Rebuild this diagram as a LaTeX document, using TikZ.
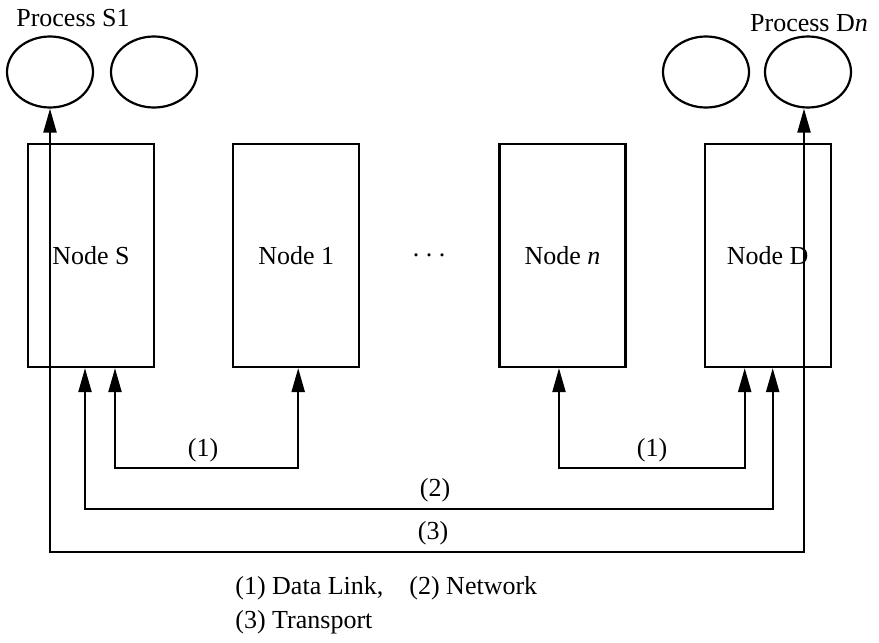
\documentclass[tikz,border=0pt]{standalone}
\usepackage{fontspec}
\setmainfont{Liberation Serif}
\usetikzlibrary{arrows.meta,shapes.geometric,positioning}

\tikzset{
  box/.style={draw, line width=1.1pt, minimum width=63pt, minimum height=111.5pt, inner sep=0pt},
  proc/.style={draw, ellipse, line width=1.1pt, minimum width=43pt, minimum height=35.5pt, inner sep=0pt},
  link/.style={line width=1.1pt, {Triangle[length=12pt,width=6.5pt]}-{Triangle[length=12pt,width=6.5pt]}},
  lbl/.style={inner sep=0pt},
}

\begin{document}
\begin{tikzpicture}[x=0.5pt, y=-0.5pt, font=\fontsize{13}{16}\selectfont]
  \useasboundingbox (0,0) rectangle (879,643);

  % 1. The nodes on the way from S to D
  \node[box] (S) at (91,255.5) {Node S};
  \node[box, right=38.5pt of S] (N1) {Node 1};
  \node[anchor=base] (dots) at (429,256) {.\ .\ .};
  \node[box] (Nn) at (562.5,255.5) {Node \textit{n}};
  \node[box, right=38.5pt of Nn] (D) {Node D};

  % 2. The processes on top
  \node[proc] (s1) at (50,72) {};
  \node[proc] (s2) at (154,72) {};
  \node[proc] (d1) at (706,72) {};
  \node[proc] (dn) at (808,72) {};
  \node[anchor=base] (ps1) at (73,26) {Process S1};
  \node[anchor=base] (pdn) at (809,31) {Process D\textit{n}};

  % 3. Where the layers enter the boxes
  \coordinate (y1) at (0,468);
  \coordinate (y2) at (0,509);
  \coordinate (y3) at (0,552);
  \coordinate (sNet) at ([xshift=-3pt]S.south);
  \coordinate (sLink) at ([xshift=12pt]S.south);
  \coordinate (n1Link) at ([xshift=1pt]N1.south);
  \coordinate (nnLink) at ([xshift=-1.75pt]Nn.south);
  \coordinate (dLink) at ([xshift=-11.5pt]D.south);
  \coordinate (dNet) at ([xshift=2.5pt]D.south);
  \coordinate (dnIn) at ([xshift=-2pt]dn.south);

  % 4. The three layers
  \draw[link] (sLink) -- (sLink |- y1) -- (n1Link |- y1) -- (n1Link);
  \draw[link] (nnLink) -- (nnLink |- y1) -- (dLink |- y1) -- (dLink);
  \draw[link] (sNet) -- (sNet |- y2) -- (dNet |- y2) -- (dNet);
  \draw[link] (s1.south) -- (s1.south |- y3) -- (dnIn |- y3) -- (dnIn);

  % 5. Labels
  \node[lbl] (l1a) at (203,450) {(1)};
  \node[lbl] (l1b) at (652,450) {(1)};
  \node[lbl] (l2) at (435,490) {(2)};
  \node[lbl] (l3) at (433,533) {(3)};
  \node[lbl, anchor=base west] (leg1) at (235,594) {(1) Data Link,\quad(2) Network};
  \node[lbl, anchor=base west] (leg2) at ([yshift=-17pt]leg1.base west) {(3) Transport};
\end{tikzpicture}
\end{document}
